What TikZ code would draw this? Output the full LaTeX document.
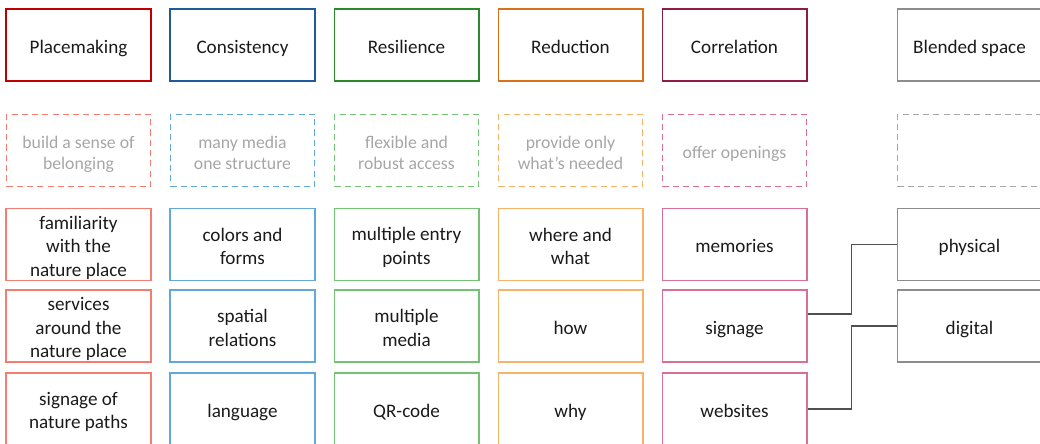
\documentclass[tikz,border=0pt]{standalone}
\usepackage{fontspec}
\setmainfont{Carlito}
\usepackage{tikz}
\usetikzlibrary{positioning}
\definecolor{pmdark}{HTML}{C00000}
\definecolor{pmlight}{HTML}{F47C70}
\definecolor{csdark}{HTML}{1F5B9B}
\definecolor{cslight}{HTML}{62A8D8}
\definecolor{rsdark}{HTML}{2A8A2A}
\definecolor{rslight}{HTML}{74C374}
\definecolor{rddark}{HTML}{D9711C}
\definecolor{rdlight}{HTML}{F9B26A}
\definecolor{codark}{HTML}{8E1C47}
\definecolor{colight}{HTML}{D96E96}
\definecolor{bsdark}{HTML}{8C8C8C}
\definecolor{bslight}{HTML}{A6A6A6}
\definecolor{aimtext}{HTML}{A6A6A6}
\definecolor{inktext}{HTML}{1A1A1A}
\definecolor{linkgray}{HTML}{505050}
\tikzset{
  cell/.style={minimum width=3.6cm,minimum height=1.8cm,inner xsep=1pt,inner ysep=0pt,
               text width=3.3cm,align=flush center,
               execute at begin node={\rule{0pt}{13.8pt}},
               execute at end node={\rule[-1.8pt]{0pt}{1.8pt}}},
  headbox/.style={cell,draw=#1,line width=1.4pt,text=inktext,font=\fontsize{13.6}{16.8}\selectfont},
  aimbox/.style={cell,draw=#1,line width=1.3pt,dash pattern=on 4.3pt off 3pt,text=aimtext,
                 font=\fontsize{12.6}{15}\selectfont},
  itembox/.style={cell,draw=#1,line width=1.4pt,text=inktext,font=\fontsize{13.6}{16.8}\selectfont},
  link/.style={draw=linkgray,line width=1.2pt}
}

\begin{document}
\begin{tikzpicture}[x=0.025cm,y=-0.025cm]
  \useasboundingbox (0,0) rectangle (1040,444);
  \clip (0,0) rectangle (1040,444);
  % ---------- five principle columns ----------
  \foreach \col/\cx/\dk/\lt/\head/\aim/\ia/\ib/\ic in {%
      pm/78.5/pmdark/pmlight/Placemaking/{build a sense of\\belonging}/{familiarity\\with the\\nature place}/{services\\around the\\nature place}/{signage of\\nature paths},
      cs/242.5/csdark/cslight/Consistency/{many media\\one structure}/{colors and\\forms}/{spatial\\relations}/language,
      rs/406.5/rsdark/rslight/Resilience/{flexible and\\robust access}/{multiple entry\\points}/{multiple\\media}/QR-code,
      rd/570.5/rddark/rdlight/Reduction/{provide only\\what’s needed}/{where and\\what}/how/why,
      co/734.5/codark/colight/Correlation/{offer openings}/memories/signage/websites}{
    \node[headbox=\dk] (\col-head) at (\cx,45) {\head};
    \node[aimbox=\lt]  (\col-aim)  at (\cx,150.5) {\aim};
    \node[itembox=\lt] (\col-1)    at (\cx,244.5) {\ia};
    \node[itembox=\lt] (\col-2)    at (\cx,326) {\ib};
    \node[itembox=\lt] (\col-3)    at (\cx,409) {\ic};}
  % ---------- blended space ----------
  \node[headbox=bsdark] (bs-head) at (969.5,45) {Blended space};
  \node[aimbox=bslight] (bs-aim)  at (969.5,150.5) {};
  \node[itembox=bsdark] (bs-1)    at (969.5,244.5) {physical};
  \node[itembox=bsdark] (bs-2)    at (969.5,326) {digital};
  % ---------- links ----------
  \draw[link] ([yshift=0.3cm]co-2.east) -- ++(1.1cm,0) |- (bs-1.west);
  \draw[link] (co-3.east) -- ++(1.1cm,0) |- (bs-2.west);
\end{tikzpicture}
\end{document}
